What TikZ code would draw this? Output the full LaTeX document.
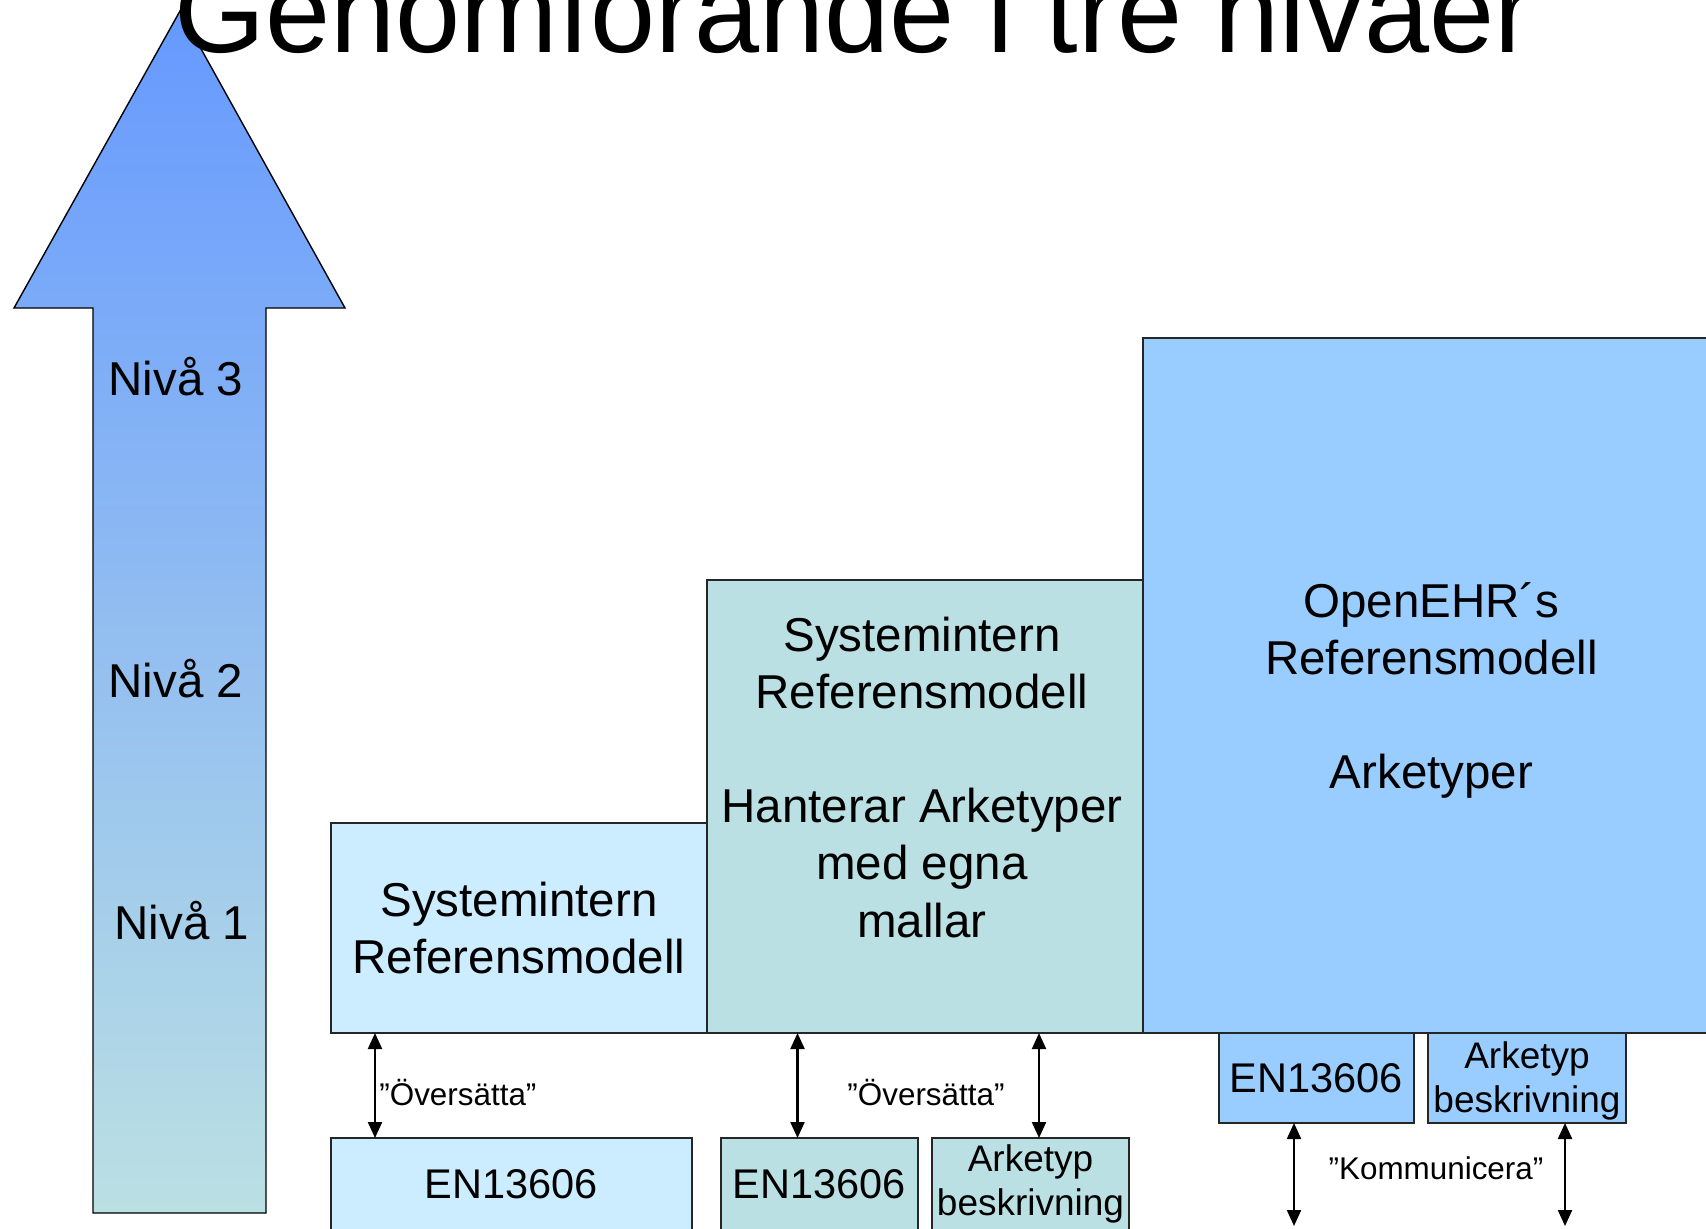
\documentclass[tikz,border=0pt]{standalone}
\usepackage{fontspec}
\setmainfont{Liberation Sans}
\usetikzlibrary{arrows.meta,calc}
\definecolor{cA}{HTML}{CCECFF}
\definecolor{cB}{HTML}{BBE0E3}
\definecolor{cC}{HTML}{99CCFF}
\definecolor{arTop}{HTML}{6699FF}
\definecolor{arBot}{HTML}{BBE0E3}
\begin{document}
\begin{tikzpicture}[x=0.5pt,y=-0.5pt,
  box/.style={draw=black!85, line width=0.7pt, inner sep=0pt, outer sep=0pt, align=center, anchor=north west},
  big/.style={font=\fontsize{23.75}{28.6}\selectfont},
  en/.style={font=\fontsize{20.75}{24}\selectfont},
  ak/.style={font=\fontsize{18.5}{22}\selectfont},
  lbl/.style={font=\fontsize{15.7}{19}\selectfont, inner sep=0pt},
  niva/.style={font=\fontsize{23.75}{28.6}\selectfont, inner sep=0pt},
  dbl/.style={{Triangle[width=7pt,length=8pt]}-{Triangle[width=7pt,length=8pt]}, line width=1.1pt}]
\clip (0,0) rectangle (1706,1228);
\fill[white] (0,0) rectangle (1706,1228);

% big arrow
\shadedraw[top color=arTop, bottom color=arBot, draw=black, line width=0.7pt]
  (180,11) -- (345,308) -- (266,308) -- (266,1213) -- (93,1213) -- (93,308) -- (14,308) -- cycle;

% title
\node[anchor=base, font=\fontsize{58.5}{70}\selectfont, inner sep=0pt] (title) at (854,52) {Genomförande i tre nivåer};

\node[niva] (n3) at (176,377) {Nivå 3};
\node[niva] (n2) at (176,679) {Nivå 2};
\node[niva] (n1) at (182,921) {Nivå 1};

% main boxes
\node[box, big, fill=cA, minimum width=188pt, minimum height=105pt] (boxA) at (331,823) {Systemintern\\Referensmodell};
\node[box, fill=cB, minimum width=218pt, minimum height=226.5pt] (boxB) at (707,580) {};
\node[big, align=center, inner sep=0pt] (tB) at (922,777) {Systemintern\\Referensmodell\\[28.6pt]Hanterar Arketyper\\med egna\\mallar};
\node[box, big, fill=cC, minimum width=288.5pt, minimum height=347.5pt] (boxC) at (1143,338) {\rule{0pt}{22.5pt}OpenEHR´s\\Referensmodell\\[28.6pt]Arketyper};

% lower boxes
\node[box, en, fill=cA, minimum width=180.5pt, minimum height=46pt] (enA) at (331,1138) {EN13606};
\node[box, en, fill=cB, minimum width=98.5pt, minimum height=46pt] (enB) at (721,1138) {EN13606};
\node[box, ak, fill=cB, minimum width=98.5pt, minimum height=46pt] (akB) at (932,1138) {Arketyp\\beskrivning};
\node[box, en, fill=cC, minimum width=97.5pt, minimum height=45pt] (enC) at (1219,1033) {EN13606};
\node[box, ak, fill=cC, minimum width=99pt, minimum height=45pt] (akC) at (1428,1033) {\rule{0pt}{16pt}Arketyp\\beskrivning};

% connectors
\path (enA.north west) ++(44,0) coordinate (pA);
\draw[dbl] (pA |- boxA.south) -- (pA);
\path (enB.north west) ++(76.5,0) coordinate (pB1);
\draw[dbl] (pB1 |- boxB.south) -- (pB1);
\path (akB.north west) ++(107,0) coordinate (pB2);
\draw[dbl] (pB2 |- boxB.south) -- (pB2);
\path (enC.south west) ++(75,0) coordinate (pC1);
\coordinate (eC1) at (1294,1226);
\draw[dbl] (pC1) -- (eC1);
\path (akC.south west) ++(137,0) coordinate (pC2);
\coordinate (eC2) at (1565,1226);
\draw[dbl] (pC2) -- (eC2);

% labels
\node[lbl, anchor=west] (l1) at (379,1092) {”Översätta”};
\node[lbl] (l2) at (926,1092) {”Översätta”};
\node[lbl] (l3) at (1436,1168) {”Kommunicera”};
\end{tikzpicture}
\end{document}
